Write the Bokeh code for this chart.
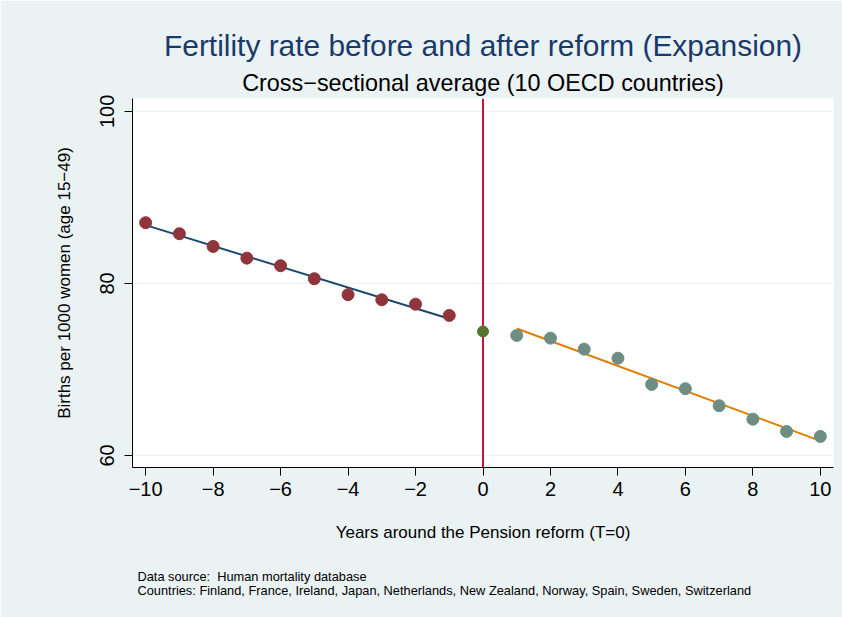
import numpy as np
from bokeh.plotting import figure
from bokeh.models import Span, FixedTicker, Range1d, Title
from bokeh.embed import file_html
from bokeh.resources import INLINE

# ---- data ----
years_pre = [-10, -9, -8, -7, -6, -5, -4, -3, -2, -1]
fert_pre = [87.06, 85.78, 84.30, 82.94, 82.06, 80.55, 78.69, 78.10, 77.59, 76.28]
years_ref = [0]
fert_ref = [74.42]
years_post = [1, 2, 3, 4, 5, 6, 7, 8, 9, 10]
fert_post = [73.95, 73.64, 72.36, 71.31, 68.26, 67.76, 65.78, 64.22, 62.79, 62.21]
x_ticks = [-10, -8, -6, -4, -2, 0, 2, 4, 6, 8, 10]
y_ticks = [60, 80, 100]

title_text = "Fertility rate before and after reform (Expansion)"
subtitle_text = "Cross\u2212sectional average (10 OECD countries)"
xlabel_text = "Years around the Pension reform (T=0)"
ylabel_text = "Births per 1000 women (age 15\u221249)"
note1 = "Data source: \u00a0Human mortality database"
note2 = "Countries: Finland, France, Ireland, Japan, Netherlands, New Zealand, Norway, Spain, Sweden, Switzerland"

# linear fits (as in the original lfit)
b_pre = np.polyfit(years_pre, fert_pre, 1)
b_post = np.polyfit(years_post, fert_post, 1)
fit_pre_x = [min(years_pre), max(years_pre)]
fit_pre_y = list(np.polyval(b_pre, fit_pre_x))
fit_post_x = [min(years_post), max(years_post)]
fit_post_y = list(np.polyval(b_post, fit_post_x))

FONT = "Liberation Sans"
BG = "#EAF2F3"

p = figure(frame_width=701, frame_height=369,
           min_border_left=132, min_border_right=9,
           min_border_top=98, min_border_bottom=150,
           x_range=Range1d(-10.39, 10.39), y_range=Range1d(58.6, 101.5),
           output_backend="svg", toolbar_location=None, tools="")
p.background_fill_color = "white"
p.border_fill_color = BG
p.outline_line_color = None

# grid
p.xgrid.visible = False
p.ygrid.ticker = FixedTicker(ticks=y_ticks)
p.ygrid.grid_line_color = BG
p.ygrid.grid_line_width = 1

# axes
for ax in (p.xaxis[0], p.yaxis[0]):
    ax.axis_line_color = "black"
    ax.axis_line_width = 1
    ax.major_tick_line_color = "black"
    ax.major_tick_out = 8
    ax.major_tick_in = 0
    ax.minor_tick_line_color = None
    ax.major_label_text_font = FONT
    ax.major_label_text_font_size = "20px"
    ax.major_label_text_color = "black"
    ax.axis_label_text_font = FONT
    ax.axis_label_text_font_size = "17px"
    ax.axis_label_text_font_style = "normal"
    ax.axis_label_text_color = "black"
p.xaxis.ticker = FixedTicker(ticks=x_ticks)
p.yaxis.ticker = FixedTicker(ticks=y_ticks)
p.xaxis.major_label_standoff = 6
p.yaxis.major_label_standoff = 10
p.yaxis.major_label_orientation = "vertical"
p.xaxis.major_label_overrides = {t: str(t).replace("-", "\u2212") for t in x_ticks}
p.xaxis.axis_label = xlabel_text
p.yaxis.axis_label = ylabel_text
p.xaxis.axis_label_standoff = 24
p.yaxis.axis_label_standoff = 24

# reform line (beneath the markers)
p.add_layout(Span(location=0, dimension="height", line_color="#C8143C",
                  line_width=2, level="underlay"))

# fit lines
p.line(fit_pre_x, fit_pre_y, line_color="#1A476F", line_width=2)
p.line(fit_post_x, fit_post_y, line_color="#E37E00", line_width=2)

# points
p.scatter(years_pre, fert_pre, size=12, fill_color="#90353B", line_color="#90353B")
p.scatter(years_post, fert_post, size=12, fill_color="#6E8E84", line_color="#6E8E84")
p.scatter(years_ref, fert_ref, size=11, fill_color="#55752F", line_color="#55752F")

# titles (above: first added is nearest to the frame)
p.add_layout(Title(text=subtitle_text, align="center", text_font=FONT,
                   text_font_size="23.4px", text_font_style="normal",
                   text_color="black", standoff=6), "above")
p.add_layout(Title(text=title_text, align="center", text_font=FONT,
                   text_font_size="29.9px", text_font_style="normal",
                   text_color="#1A3A6B", standoff=6), "above")

# notes (below the x-axis title)
p.add_layout(Title(text=note1 + "\n" + note2, align="left", offset=5, text_font=FONT,
                   text_font_size="12.8px", text_font_style="normal",
                   text_color="black", text_line_height=0.9, standoff=44), "below")

open("out.html", "w").write(file_html(p, INLINE))
